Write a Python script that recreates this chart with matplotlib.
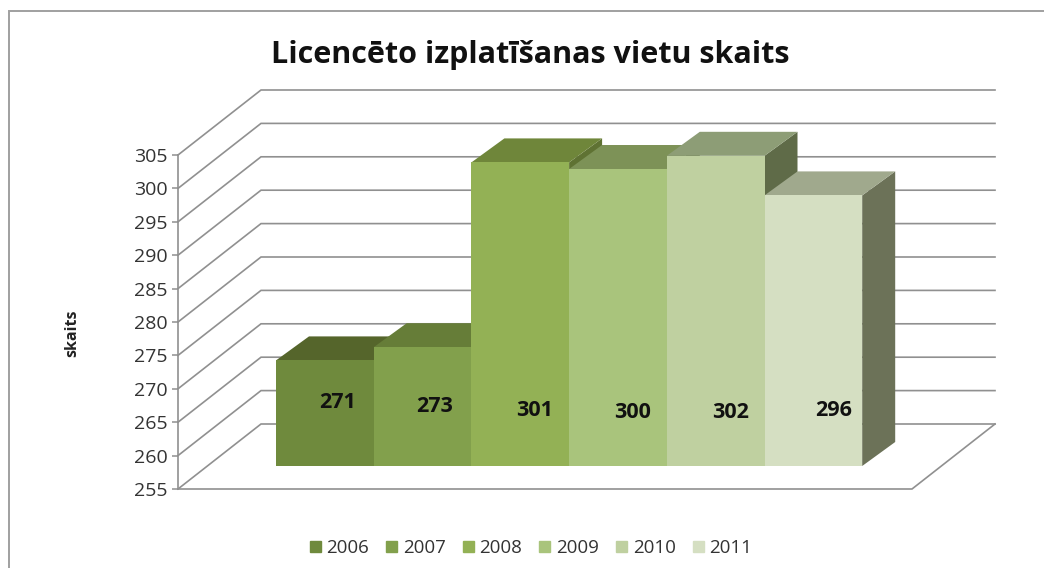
import matplotlib
matplotlib.use("Agg")
import matplotlib.pyplot as plt
from matplotlib.patches import Patch, Rectangle

years = ["2006", "2007", "2008", "2009", "2010", "2011"]
values = [271, 273, 301, 300, 302, 296]
front_colors = ["#6F8A3D", "#82A04C", "#93B155", "#A9C47C", "#BFD0A0", "#D5DFC2"]
top_colors = ["#55652B", "#667D38", "#6F863A", "#7D9257", "#8D9D76", "#A0A98D"]
side_colors = ["#4F5E2A", "#56692F", "#5F7233", "#5E6E3F", "#5F6B48", "#6C7258"]
y_ticks = list(range(255, 306, 5))
title = "Licencēto izplatīšanas vietu skaits"
y_label = "skaits"

W, H = 1044, 568
PX_PER_CAT = 97.7
PX_PER_UNIT = 6.68
AX_L, AX_R, AX_T, AX_B = 178, 912, 155, 489
WALL_DX, WALL_DY = 83, 65       # depth of the floor, px
BAR_DX, BAR_DY = 33, 24         # depth of one bar, px
BAR_LEFT_PX, BAR_BOTTOM_PX = 276, 466
BAR_SCALE = 0.988               # foreshortening of the bars
GRID = "#909090"

plt.rcParams["font.family"] = ["Open Sans", "DejaVu Sans"]
fig = plt.figure(figsize=(W / 100, H / 100), dpi=100, facecolor="white")
ax = fig.add_axes([AX_L / W, 1 - AX_B / H, (AX_R - AX_L) / W, (AX_B - AX_T) / H])
ax.set_xlim(0, (AX_R - AX_L) / PX_PER_CAT)
ax.set_ylim(255, 305)
ax.patch.set_visible(False)

wx, wy = WALL_DX / PX_PER_CAT, WALL_DY / PX_PER_UNIT
bx, by = BAR_DX / PX_PER_CAT, BAR_DY / PX_PER_UNIT
xmax = ax.get_xlim()[1]

# walls and floor
for t in y_ticks:
    ax.plot([0, wx, xmax + wx], [t, t + wy, t + wy], color=GRID, lw=1.2,
            clip_on=False, zorder=1, solid_joinstyle="miter")
ax.plot([0, xmax, xmax + wx], [255, 255, 255 + wy], color=GRID, lw=1.2,
        clip_on=False, zorder=1, solid_joinstyle="miter")

# bars, painted from left to right
x0 = (BAR_LEFT_PX - AX_L) / PX_PER_CAT
base = 255 + (AX_B - BAR_BOTTOM_PX) / PX_PER_UNIT
for i, v in enumerate(values):
    l, r = x0 + i, x0 + i + 1
    top = base + (v - 255) * BAR_SCALE
    z = 2 + i
    ax.fill([r, r + bx, r + bx, r], [base, base + by, top + by, top],
            color=side_colors[i], lw=0, clip_on=False, zorder=z)
    ax.fill([l, l + bx, r + bx, r], [top, top + by, top + by, top],
            color=top_colors[i], lw=0, clip_on=False, zorder=z)
    ax.fill([l, r, r, l], [base, base, top, top],
            color=front_colors[i], lw=0, clip_on=False, zorder=z)

# data labels (px centre in the picture)
label_px = [(338, 402), (435, 406), (535, 410), (633, 412), (731, 412), (834, 410)]
for (px, py), v in zip(label_px, values):
    ax.text((px - AX_L) / PX_PER_CAT, 255 + (AX_B - py) / PX_PER_UNIT, str(v),
            ha="center", va="center", fontsize=15.5, fontweight="bold",
            color="#111111", zorder=20)

# axis
for s in ["top", "right", "bottom"]:
    ax.spines[s].set_visible(False)
ax.spines["left"].set_color(GRID)
ax.spines["left"].set_linewidth(1.2)
ax.set_xticks([])
ax.set_yticks(y_ticks)
ax.tick_params(axis="y", length=4, width=1.1, color=GRID, labelcolor="#333333",
               labelsize=14, pad=3.5)
ax.set_ylabel(y_label, fontsize=11.5, fontweight="bold", color="#222222")
ax.yaxis.set_label_coords((80 - AX_L) / (AX_R - AX_L), (AX_B - 333) / (AX_B - AX_T))

fig.text(530 / W, 1 - 55 / H, title, ha="center", va="center", fontsize=22,
         fontweight="bold", color="#111111")

handles = [Patch(color=c, label=y) for c, y in zip(front_colors, years)]
fig.legend(handles=handles, loc="center", bbox_to_anchor=(531 / W, 1 - 548 / H),
           ncol=6, frameon=False, fontsize=13.5, labelcolor="#333333",
           handlelength=0.58, handleheight=0.58, handletextpad=0.32,
           columnspacing=0.9, borderpad=0, borderaxespad=0)

# outer frame
fig.add_artist(Rectangle((9 / W, 1 - 580 / H), 1060 / W, 569 / H, transform=fig.transFigure,
                         fill=False, edgecolor="#A0A0A0", lw=1.4))
fig.savefig("out.png", dpi=100, facecolor="white")
